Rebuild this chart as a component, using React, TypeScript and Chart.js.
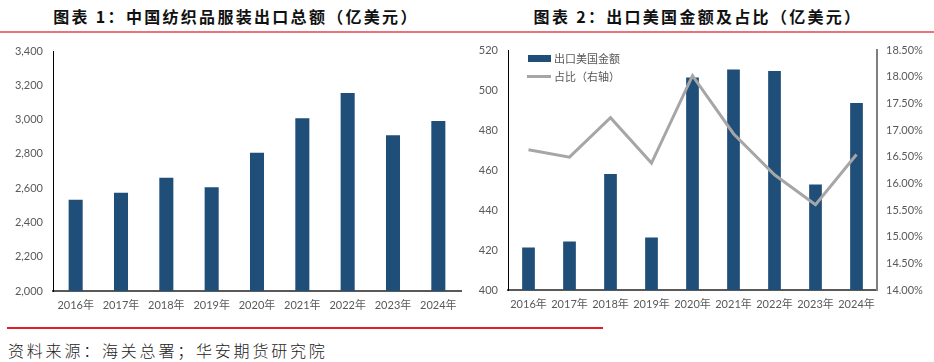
import React, { useEffect, useRef } from "react";
import { Chart, registerables } from "chart.js";
Chart.register(...registerables);

const years = ["2016年", "2017年", "2018年", "2019年", "2020年", "2021年", "2022年", "2023年", "2024年"];
const totalExports = [2533, 2573, 2661, 2605, 2807, 3007, 3155, 2908, 2992];
const usExports = [421.2, 424.3, 458, 426.3, 506.3, 510.3, 509.5, 452.8, 493.5];
const usShare = [16.63, 16.49, 17.23, 16.38, 18.02, 16.93, 16.16, 15.6, 16.54];
const title1 = "图表 1：中国纺织品服装出口总额（亿美元）";
const title2 = "图表 2：出口美国金额及占比（亿美元）";
const seriesNames = ["出口美国金额", "占比（右轴）"];
const sourceText = "资料来源：海关总署；华安期货研究院";

const BLUE = "#1F4E79";
const GRAY_LINE = "#A6A6A6";
const TICK = "#595959";
const FONT = "Lato, 'Noto Sans CJK SC', sans-serif";
const CJK = "'Noto Sans CJK SC', sans-serif";

const fixY = (w: number) => (s: any) => {
  s.width = w;
  s.paddingTop = 0;
  s.paddingBottom = 0;
};

function Chart1() {
  const ref = useRef<HTMLCanvasElement>(null);
  useEffect(() => {
    const chart = new Chart(ref.current!, {
      type: "bar",
      data: {
        labels: years,
        datasets: [
          {
            data: totalExports,
            backgroundColor: BLUE,
            borderWidth: 0,
            barPercentage: 0.31,
            categoryPercentage: 1,
          },
        ],
      },
      options: {
        animation: false,
        responsive: false,
        maintainAspectRatio: false,
        layout: { padding: { left: 0, right: 9, top: 11, bottom: 0 } },
        plugins: { legend: { display: false }, tooltip: { enabled: false } },
        scales: {
          x: {
            grid: { display: false, drawTicks: false },
            border: { display: true, color: "#595959", width: 2 },
            ticks: { color: TICK, font: { family: FONT, size: 11 }, padding: 8, maxRotation: 0, autoSkip: false },
            afterFit: (s: any) => {
              s.height = 39;
            },
          },
          y: {
            min: 2000,
            max: 3400,
            grid: { display: false, drawTicks: false },
            border: { display: true, color: "#000000", width: 1 },
            ticks: { stepSize: 200, color: TICK, font: { family: FONT, size: 11 }, padding: 10 },
            afterFit: fixY(53),
          },
        },
      },
    });
    return () => chart.destroy();
  }, []);
  return (
    <canvas
      ref={ref}
      width={470}
      height={290}
      style={{ position: "absolute", left: 0, top: 40, width: 470, height: 290 }}
    />
  );
}

function Chart2() {
  const ref = useRef<HTMLCanvasElement>(null);
  useEffect(() => {
    const chart = new Chart(ref.current!, {
      type: "bar",
      data: {
        labels: years,
        datasets: [
          {
            type: "line",
            label: seriesNames[1],
            data: usShare,
            borderColor: GRAY_LINE,
            backgroundColor: GRAY_LINE,
            borderWidth: 3,
            pointRadius: 0,
            tension: 0,
            yAxisID: "y1",
            order: 0,
          } as any,
          {
            type: "bar",
            label: seriesNames[0],
            data: usExports,
            backgroundColor: BLUE,
            barPercentage: 0.31,
            categoryPercentage: 1,
            yAxisID: "y",
            order: 1,
          },
        ],
      },
      options: {
        animation: false,
        responsive: false,
        maintainAspectRatio: false,
        layout: { padding: { left: 0, right: 0, top: 10, bottom: 0 } },
        plugins: { legend: { display: false }, tooltip: { enabled: false } },
        scales: {
          x: {
            grid: { display: false, drawTicks: false },
            border: { display: true, color: "#595959", width: 2 },
            ticks: { color: TICK, font: { family: FONT, size: 11 }, padding: 8, maxRotation: 0, autoSkip: false },
            afterFit: (s: any) => {
              s.height = 40;
            },
          },
          y: {
            position: "left",
            min: 400,
            max: 520,
            grid: { display: false, drawTicks: false },
            border: { display: true, color: "#000000", width: 1 },
            ticks: { stepSize: 20, color: TICK, font: { family: FONT, size: 11 }, padding: 10 },
            afterFit: fixY(38),
          },
          y1: {
            position: "right",
            min: 14,
            max: 18.5,
            grid: { display: false, drawTicks: false },
            border: { display: true, color: "#7F7F7F", width: 2 },
            ticks: {
              stepSize: 0.5,
              color: TICK,
              font: { family: FONT, size: 11 },
              padding: 9,
              callback: (v: any) => Number(v).toFixed(2) + "%",
            },
            afterFit: fixY(57),
          },
        },
      },
    });
    return () => chart.destroy();
  }, []);
  return (
    <canvas
      ref={ref}
      width={464}
      height={290}
      style={{ position: "absolute", left: 470, top: 40, width: 464, height: 290 }}
    />
  );
}

export default function App() {
  const titleStyle: React.CSSProperties = {
    position: "absolute",
    top: 6,
    transform: "translateX(-50%)",
    whiteSpace: "nowrap",
    fontFamily: CJK,
    fontWeight: 700,
    fontSize: 16,
    lineHeight: "20px",
    letterSpacing: 2.3,
    color: "#111",
  };
  const legendText: React.CSSProperties = {
    position: "absolute",
    left: 554,
    fontFamily: CJK,
    fontSize: 11,
    lineHeight: "14px",
    color: TICK,
    whiteSpace: "nowrap",
  };
  return (
    <div style={{ position: "absolute", left: 0, top: 0, width: 934, height: 362, background: "#fff", overflow: "hidden" }}>
      <div style={{ ...titleStyle, left: 236 }}>{title1}</div>
      <div style={{ ...titleStyle, left: 698 }}>{title2}</div>
      <div style={{ position: "absolute", left: 0, top: 31, width: 934, height: 2, background: "#E8737C" }} />
      <Chart1 />
      <Chart2 />
      <div style={{ position: "absolute", left: 528, top: 55, width: 23, height: 7, background: BLUE }} />
      <div style={{ ...legendText, top: 51 }}>{seriesNames[0]}</div>
      <div style={{ position: "absolute", left: 527, top: 75, width: 24, height: 3, background: GRAY_LINE }} />
      <div style={{ ...legendText, top: 69 }}>{seriesNames[1]}</div>
      <div style={{ position: "absolute", left: 7, top: 327, width: 596, height: 2, background: "#E21F26" }} />
      <div
        style={{
          position: "absolute",
          left: 8,
          top: 340,
          fontFamily: CJK,
          fontWeight: 300,
          fontSize: 16,
          lineHeight: "20px",
          letterSpacing: 2.8,
          color: "#222",
          whiteSpace: "nowrap",
        }}
      >
        {sourceText}
      </div>
    </div>
  );
}
